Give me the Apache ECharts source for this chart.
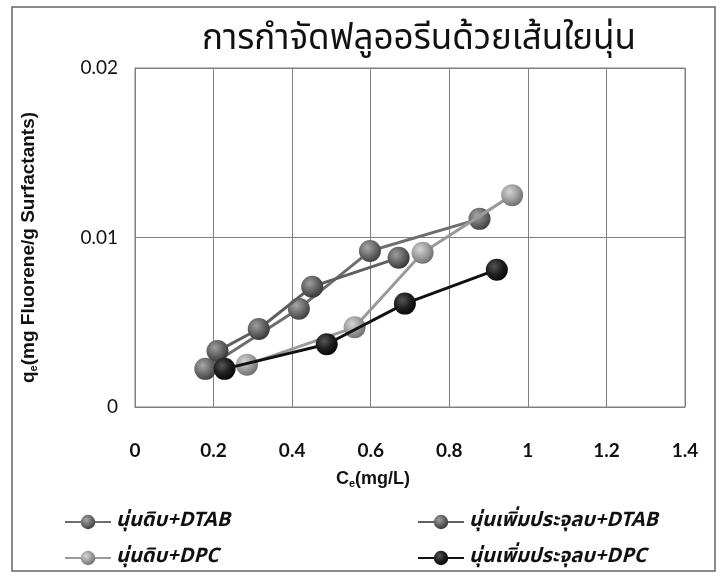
<!DOCTYPE html>
<html>
<head>
<meta charset="utf-8">
<script src="https://cdn.jsdelivr.net/npm/echarts@6/dist/echarts.min.js"></script>
<style>
html,body{margin:0;padding:0;background:#ffffff;}
#c{width:720px;height:576px;}
</style>
</head>
<body>
<div id="c"></div>
<script>
// Data
var titleText = 'การกำจัดฟลูออรีนด้วยเส้นใยนุ่น';
var seriesNames = ['นุ่นดิบ+DTAB', 'นุ่นดิบ+DPC', 'นุ่นเพิ่มประจุลบ+DTAB', 'นุ่นเพิ่มประจุลบ+DPC'];
var rawDTAB = [[0.179, 0.00225], [0.417, 0.0058], [0.598, 0.0092], [0.877, 0.0111]];
var rawDPC = [[0.285, 0.0025], [0.559, 0.0047], [0.732, 0.0091], [0.960, 0.0125]];
var chgDTAB = [[0.210, 0.0033], [0.315, 0.0046], [0.451, 0.0071], [0.671, 0.0088]];
var chgDPC = [[0.228, 0.00225], [0.488, 0.0037], [0.687, 0.0061], [0.921, 0.0081]];
var xTicks = [0, 0.2, 0.4, 0.6, 0.8, 1, 1.2, 1.4];
var yTicks = [0, 0.01, 0.02];

function sphere(base, light, dark) {
  return {
    type: 'radial', x: 0.38, y: 0.35, r: 0.7,
    colorStops: [
      {offset: 0, color: light},
      {offset: 0.55, color: base},
      {offset: 1, color: dark}
    ]
  };
}
var styles = [
  {line: '#6e6e6e', fill: sphere('#6a6a6a', '#a8a8a8', '#3c3c3c')},
  {line: '#9a9a9a', fill: sphere('#9c9c9c', '#d6d6d6', '#6a6a6a')},
  {line: '#5f5f5f', fill: sphere('#616161', '#9e9e9e', '#333333')},
  {line: '#111111', fill: sphere('#1e1e1e', '#555555', '#050505')}
];
var datasets = [rawDTAB, rawDPC, chgDTAB, chgDPC];
var thaiFont = '"Noto Sans Thai", "Noto Sans", "DejaVu Sans", sans-serif';
var latinFont = '"Liberation Sans", Arial, sans-serif';

var series = datasets.map(function (d, i) {
  return {
    name: seriesNames[i],
    type: 'line',
    data: d,
    symbol: 'circle',
    symbolSize: 22,
    lineStyle: {color: styles[i].line, width: 3},
    itemStyle: {color: styles[i].fill, borderWidth: 0},
    z: 2 + i
  };
});

var legendText = {fontFamily: thaiFont, fontSize: 20, fontStyle: 'italic', fontWeight: 'bold', color: '#111'};

var chart = echarts.init(document.getElementById('c'));
chart.setOption({
  backgroundColor: '#ffffff',
  animation: false,
  title: {
    text: titleText,
    left: 414, top: 19, textAlign: 'center',
    textStyle: {fontFamily: thaiFont, fontSize: 35, fontWeight: 'normal', color: '#111'}
  },
  graphic: [{
    type: 'rect', shape: {x: 12, y: 7, width: 703, height: 564},
    style: {fill: 'none', stroke: '#666', lineWidth: 1.5}, silent: true
  }],
  grid: {left: 135, right: 35, top: 68, bottom: 169, show: true, borderColor: '#808080', borderWidth: 1, backgroundColor: '#ffffff'},
  xAxis: {
    type: 'value', min: 0, max: 1.4, interval: 0.2,
    name: 'C{s|e}(mg/L)', nameLocation: 'middle', nameGap: 62,
    nameTextStyle: {fontFamily: latinFont, fontSize: 18, fontWeight: 'bold', color: '#111', padding: [0, 74, 0, 0],
      rich: {s: {fontSize: 11, fontWeight: 'bold', verticalAlign: 'bottom', padding: [9, 0, 0, 0], fontFamily: latinFont}}},
    axisLine: {show: true, lineStyle: {color: '#808080', width: 1}},
    axisTick: {show: false},
    splitLine: {show: true, lineStyle: {color: '#808080', width: 1}},
    axisLabel: {margin: 34, fontFamily: 'Lato, sans-serif', fontSize: 19, fontWeight: 'bold', color: '#111',
      formatter: function (v) { return String(Math.round(v * 10) / 10); }}
  },
  yAxis: {
    type: 'value', min: 0, max: 0.02, interval: 0.01,
    name: 'q{s|e}(mg Fluorene/g Surfactants)', nameLocation: 'middle', nameGap: 96, nameRotate: 90,
    nameTextStyle: {fontFamily: latinFont, fontSize: 19, fontWeight: 'bold', color: '#111', padding: [0, 20, 0, 0],
      rich: {s: {fontSize: 11, fontWeight: 'bold', verticalAlign: 'bottom', padding: [9, 0, 0, 0], fontFamily: latinFont}}},
    axisLine: {show: true, lineStyle: {color: '#808080', width: 1}},
    axisTick: {show: false},
    splitLine: {show: true, lineStyle: {color: '#808080', width: 1}},
    axisLabel: {margin: 17, fontFamily: 'Lato, sans-serif', fontSize: 19, color: '#111',
      formatter: function (v) { return v === 0 ? '0' : v.toFixed(2); }}
  },
  legend: [{
    data: [seriesNames[0], seriesNames[1]],
    orient: 'vertical', left: 59, top: 507, itemGap: 16, itemWidth: 46, itemHeight: 18,
    textStyle: legendText
  }, {
    data: [seriesNames[2], seriesNames[3]],
    orient: 'vertical', left: 412, top: 507, itemGap: 16, itemWidth: 46, itemHeight: 18,
    textStyle: legendText
  }],
  series: series
});
</script>
</body>
</html>
